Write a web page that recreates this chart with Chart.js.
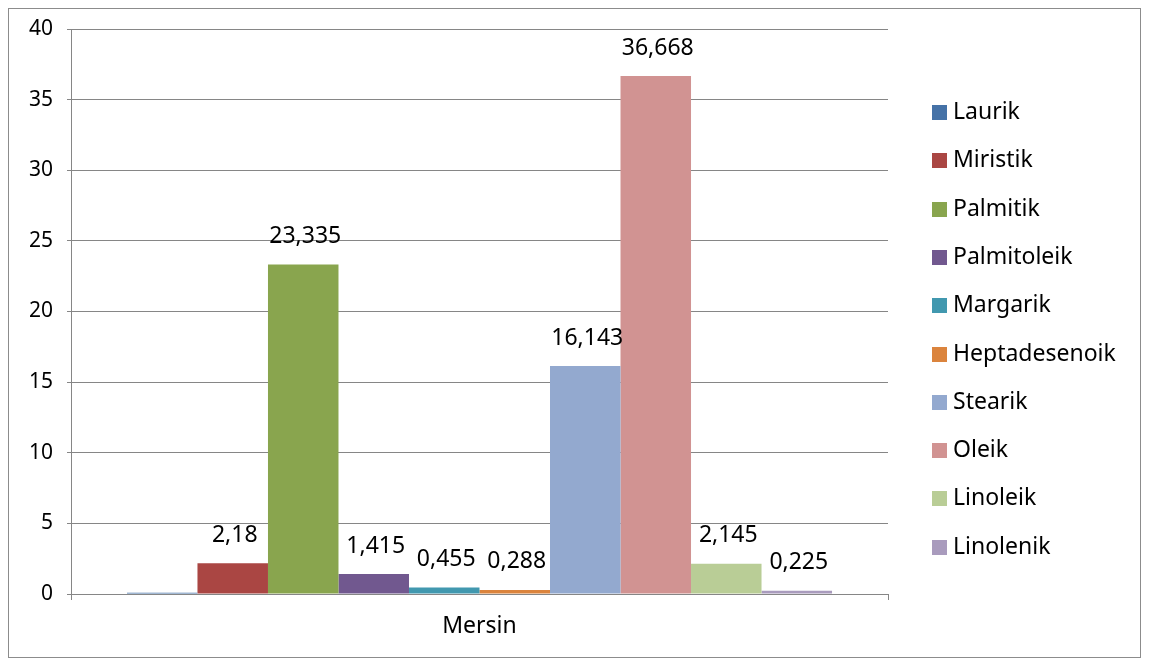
<!DOCTYPE html>
<html>
<head>
<meta charset="utf-8">
<script src="https://cdn.jsdelivr.net/npm/chart.js@4/dist/chart.umd.min.js"></script>
<style>
  html, body { margin: 0; padding: 0; background: #fff; }
  #wrap { width: 1150px; height: 664px; }
</style>
</head>
<body>
<div id="wrap"><canvas id="chart" width="1150" height="664"></canvas></div>
<script>
// fatty acid composition, Mersin
const categories = ['Mersin'];
const acids = ['Laurik', 'Miristik', 'Palmitik', 'Palmitoleik', 'Margarik',
  'Heptadesenoik', 'Stearik', 'Oleik', 'Linoleik', 'Linolenik'];
const values = [0.08, 2.18, 23.335, 1.415, 0.455, 0.288, 16.143, 36.668, 2.145, 0.225];
const valueLabels = ['', '2,18', '23,335', '1,415', '0,455', '0,288', '16,143', '36,668', '2,145', '0,225'];
const colors = ['#4572A7', '#AA4643', '#89A54E', '#71588F', '#4198AF',
  '#DB843D', '#93A9CF', '#D19392', '#B9CD96', '#A99BBD'];
const yTicks = [0, 5, 10, 15, 20, 25, 30, 35, 40];

const FONT = '"Noto Sans", "Open Sans", sans-serif';
const AXIS = '#868686';

const decorPlugin = {
  id: 'decor',
  beforeDraw(chart) {
    const { ctx } = chart;
    ctx.save();
    ctx.strokeStyle = '#8c8c8c';
    ctx.lineWidth = 1;
    ctx.strokeRect(8.5, 8.5, 1132, 649);
    ctx.restore();
  },
  afterDatasetsDraw(chart) {
    const { ctx } = chart;
    ctx.save();
    ctx.font = '23px ' + FONT;
    ctx.fillStyle = '#000';
    ctx.textAlign = 'center';
    ctx.textBaseline = 'middle';
    chart.data.datasets.forEach((ds, i) => {
      const bar = chart.getDatasetMeta(i).data[0];
      if (!valueLabels[i]) return;
      ctx.fillText(valueLabels[i], bar.x + 2, bar.y - 28);
    });
    // legend
    ctx.textAlign = 'left';
    chart.data.datasets.forEach((ds, i) => {
      const y = 112.5 + 48.3 * i;
      ctx.fillStyle = ds.backgroundColor;
      ctx.fillRect(932, Math.round(y - 7.5), 15, 15);
      ctx.fillStyle = '#000';
      ctx.fillText(ds.label, 953, y);
    });
    ctx.restore();
  }
};

new Chart(document.getElementById('chart'), {
  type: 'bar',
  data: {
    labels: categories,
    datasets: acids.map((name, i) => ({
      label: name,
      data: [values[i]],
      backgroundColor: colors[i],
      borderWidth: 0,
      barPercentage: 1,
      categoryPercentage: 0.863
    }))
  },
  options: {
    responsive: false,
    animation: false,
    layout: { padding: { left: 0, right: 262, top: 29, bottom: 0 } },
    plugins: { legend: { display: false }, tooltip: { enabled: false } },
    scales: {
      x: {
        grid: { drawOnChartArea: false, drawTicks: true, tickLength: 6, color: AXIS },
        border: { color: AXIS, width: 1 },
        ticks: { color: '#000', font: { family: FONT, size: 23 }, padding: 13 },
        afterFit(scale) { scale.height = 70; }
      },
      y: {
        min: 0,
        max: 40,
        afterBuildTicks(scale) { scale.ticks = yTicks.map(v => ({ value: v })); },
        grid: { color: AXIS, tickLength: 4 },
        border: { color: AXIS, width: 1 },
        ticks: { color: '#000', font: { family: FONT, size: 21 }, padding: 14 },
        afterFit(scale) { scale.width = 71; }
      }
    }
  },
  plugins: [decorPlugin]
});
</script>
</body>
</html>
